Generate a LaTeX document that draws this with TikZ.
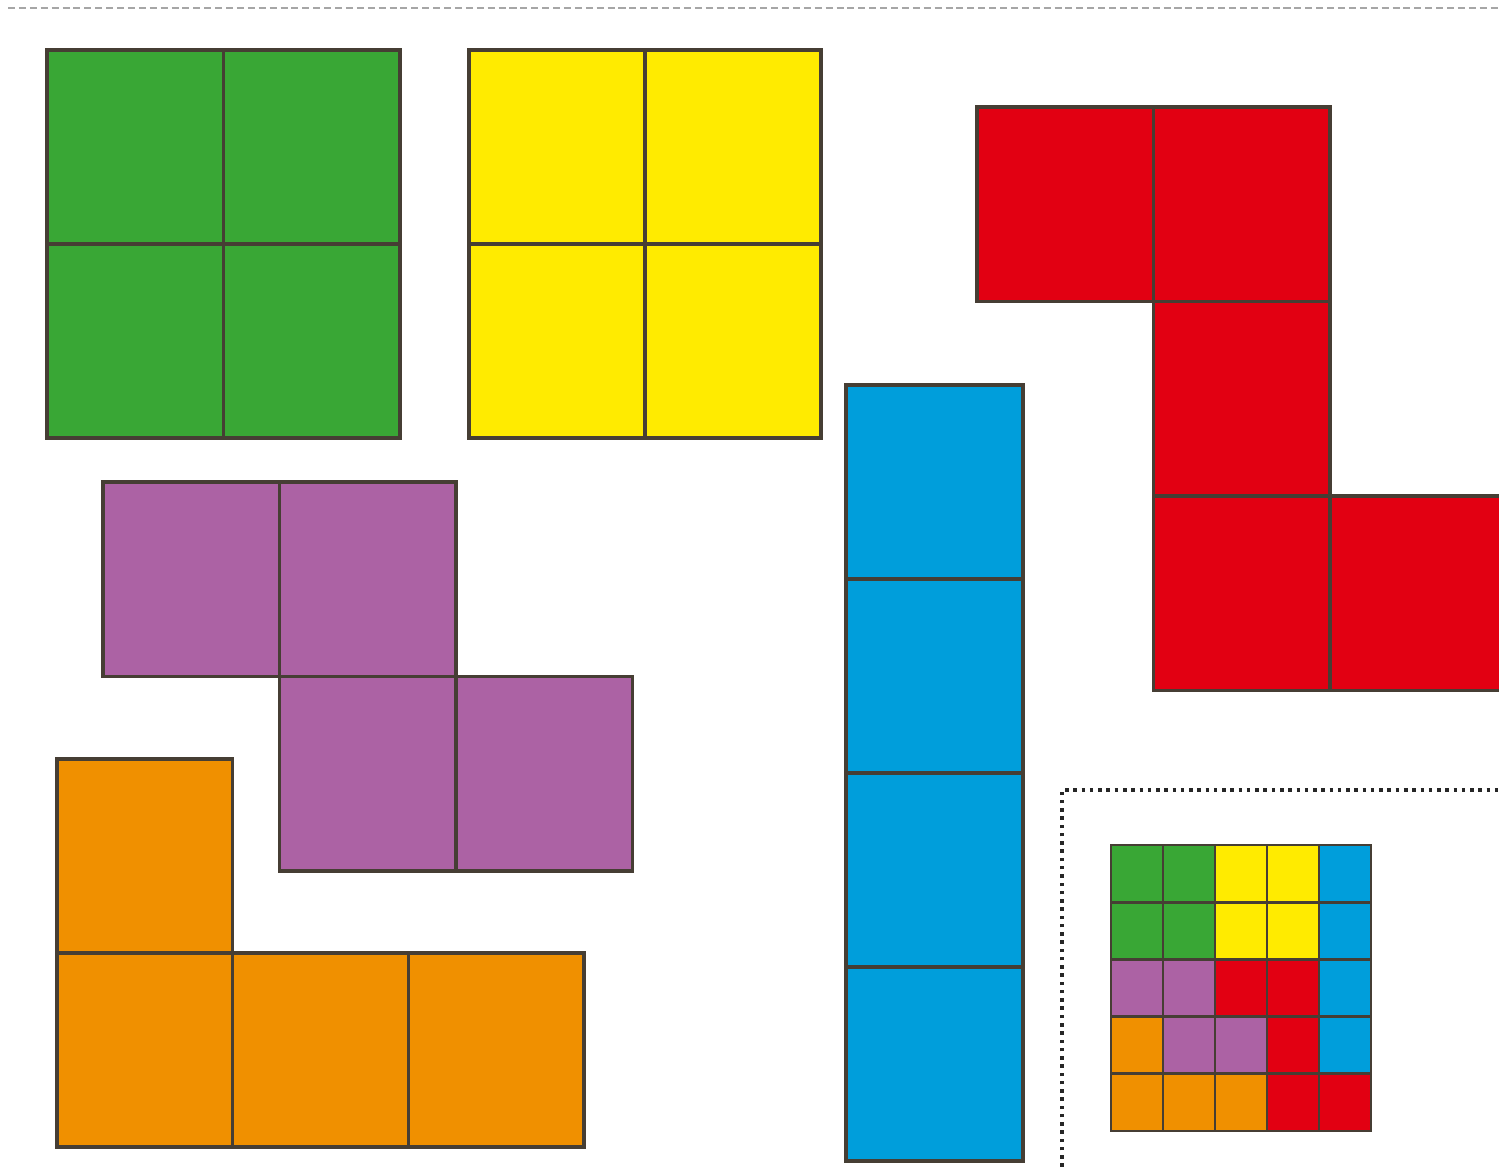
\documentclass[tikz,border=0pt]{standalone}
\usepackage{xcolor}
\usepackage{tikz}
\definecolor{tmedge}{RGB}{70,62,52}
\definecolor{tmgreen}{RGB}{57,167,53}
\definecolor{tmyellow}{RGB}{255,235,0}
\definecolor{tmred}{RGB}{226,0,18}
\definecolor{tmblue}{RGB}{0,158,219}
\definecolor{tmpurple}{RGB}{172,98,164}
\definecolor{tmorange}{RGB}{240,144,0}
\tikzset{
  tmcell/.style={draw=tmedge, line width=1pt, line join=miter},
  grn/.style={tmcell, fill=tmgreen},
  yel/.style={tmcell, fill=tmyellow},
  rd/.style={tmcell, fill=tmred},
  blu/.style={tmcell, fill=tmblue},
  prp/.style={tmcell, fill=tmpurple},
  org/.style={tmcell, fill=tmorange},
  mini/.style={line width=0.8pt},
  cutline/.style={draw=black!35, line width=0.5pt, dash pattern=on 2pt off 1.1pt},
  dotbox/.style={draw=black!85, line width=1.1pt, dash pattern=on 1pt off 1.35pt}
}
\begin{document}
\begin{tikzpicture}[x=0.01cm, y=-0.01cm]
  \useasboundingbox (0,0) rectangle (1499,1167);
  \clip (0,0) rectangle (1499,1167);
  \fill[white] (0,0) rectangle (1499,1167);
  % cut line along the top
  \draw[cutline] (8,8) -- (1499,8);
  % green square
  \foreach \c/\r in {0/0,1/0,0/1,1/1}
    \draw[grn] ({47+176.5*\c},{50+194*\r}) rectangle ++(176.5,194);
  % yellow square
  \foreach \c/\r in {0/0,1/0,0/1,1/1}
    \draw[yel] ({469+176*\c},{50+194*\r}) rectangle ++(176,194);
  % red piece
  \foreach \c/\r in {0/0,1/0,1/1,1/2,2/2}
    \draw[rd] ({977+176.5*\c},{107+194.5*\r}) rectangle ++(176.5,194.5);
  % blue bar
  \foreach \r in {0,...,3}
    \draw[blu] (846,{385+194*\r}) rectangle ++(177,194);
  % purple piece
  \foreach \c/\r in {0/0,1/0,1/1,2/1}
    \draw[prp] ({103+176.5*\c},{482+194.5*\r}) rectangle ++(176.5,194.5);
  % orange piece
  \foreach \c/\r in {0/0,0/1,1/1,2/1}
    \draw[org] ({57+175.7*\c},{759+194*\r}) rectangle ++(175.7,194);
  % answer box
  \draw[dotbox] (1062,1167) -- (1062,790) -- (1499,790);
  \foreach \r/\row in {0/{grn,grn,yel,yel,blu},1/{grn,grn,yel,yel,blu},
                       2/{prp,prp,rd,rd,blu},3/{org,prp,prp,rd,blu},
                       4/{org,org,org,rd,rd}}
    \foreach \s [count=\c from 0] in \row
      \draw[\s, mini] ({1111+52*\c},{845+57.2*\r}) rectangle ++(52,57.2);
\end{tikzpicture}
\end{document}
